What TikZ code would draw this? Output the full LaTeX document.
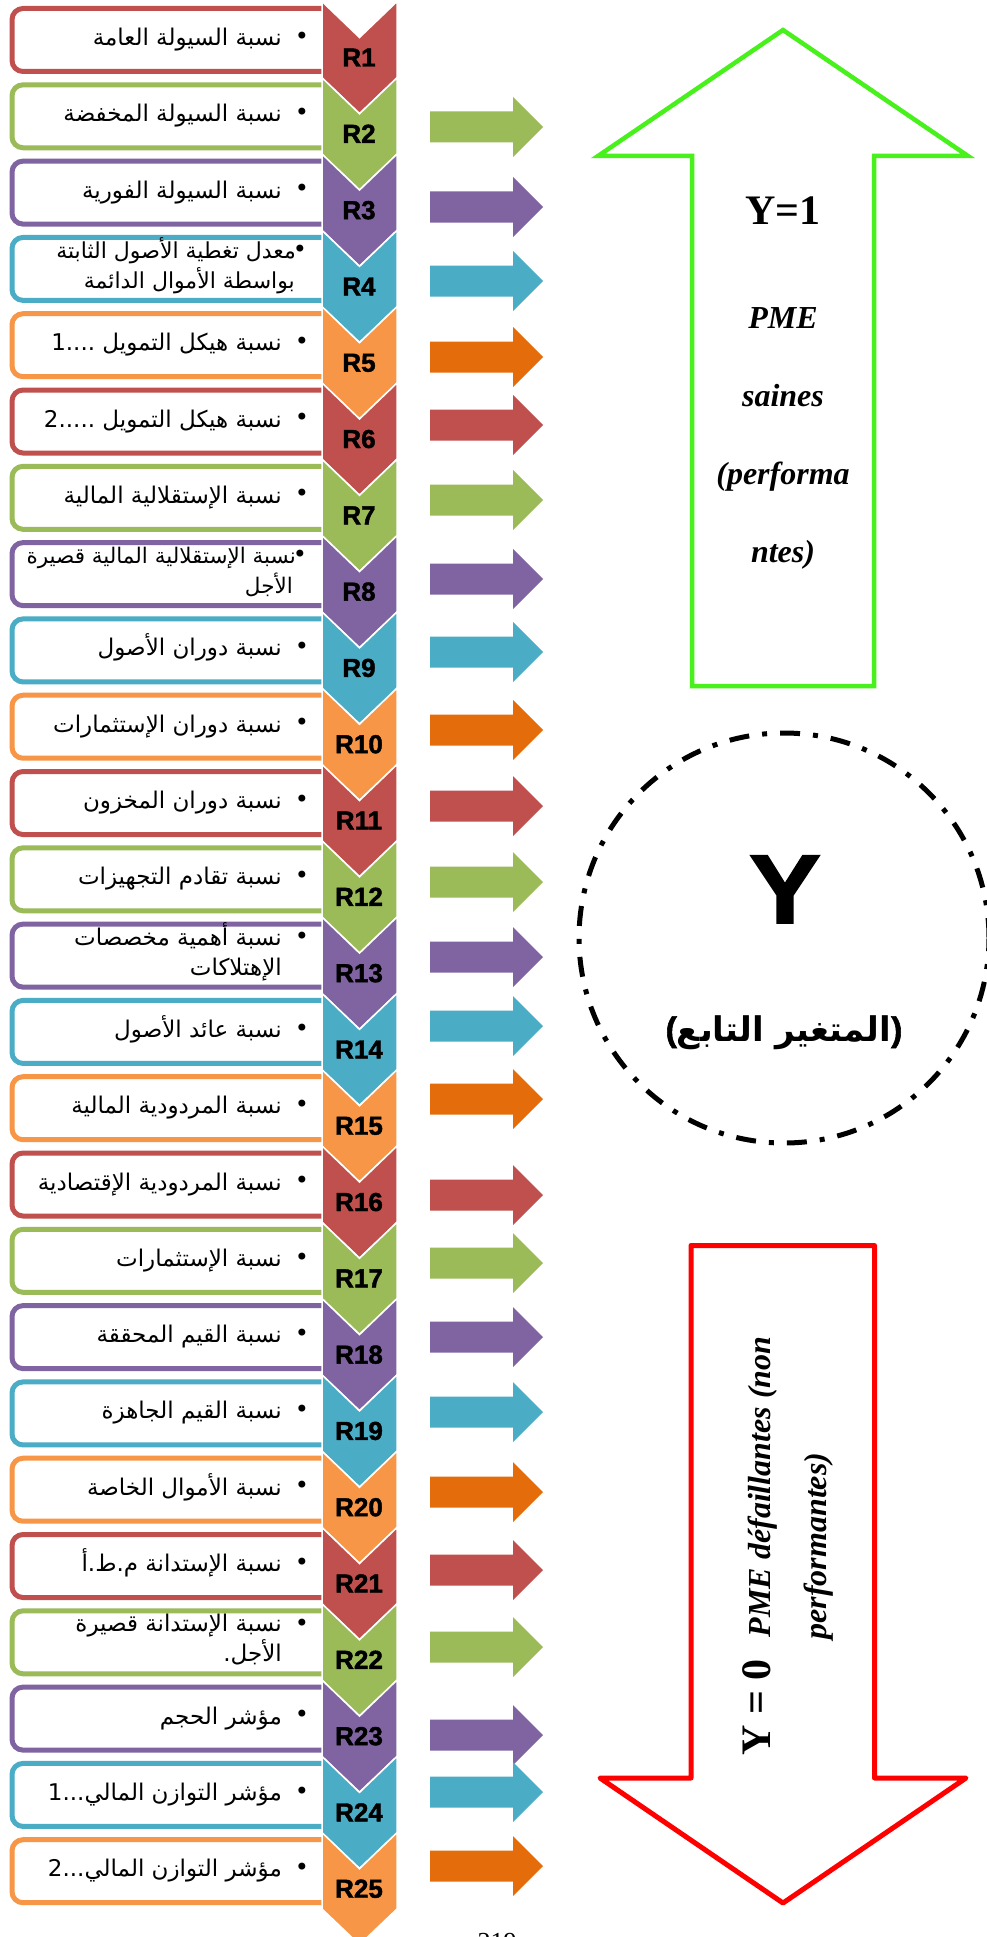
\documentclass[tikz,border=0pt]{standalone}
\usepackage{fontspec}
\setmainfont{Liberation Serif}
\newfontfamily\arabicfont[Script=Arabic]{DejaVu Sans}
\newfontfamily\labelfont{Liberation Sans}
\newfontfamily\heavyfont[BoldFeatures={FakeBold=1.6}]{Liberation Sans}
\TeXXeTstate=1

\definecolor{cRed}{HTML}{C0504D}
\definecolor{cGreen}{HTML}{9BBB59}
\definecolor{cPurple}{HTML}{8064A2}
\definecolor{cBlue}{HTML}{4BACC6}
\definecolor{cOrange}{HTML}{F79646}
\definecolor{cOrangeDark}{HTML}{E46C0A}
\definecolor{upGreen}{RGB}{72,240,28}
\definecolor{downRed}{RGB}{255,0,0}

% top edge of row #1
\newcommand\rowtop[1]{\pgfmathsetmacro\tp{1.5+76.3*(#1-1)}}

% rounded text frame of a row, open on the chevron side
\newcommand\ratioframe[2]{%
  \rowtop{#1}%
  \draw[frame,draw=#2] (326,\tp+7) -- (12,\tp+7) -- (12,\tp+70) -- (326,\tp+70);}

% chevron with its label
\newcommand\ratiochevron[2]{%
  \rowtop{#1}%
  \filldraw[chevshape,fill=#2] (322,\tp) -- (359.5,\tp+36) -- (397,\tp)
     -- (397,\tp+76.3) -- (359.5,\tp+112) -- (322,\tp+76.3) -- cycle;
  \node[rlabel] (lab#1) at (359,\tp+65) {R#1};}

% one-line ratio name
\newcommand\ratioone[2]{%
  \rowtop{#1}%
  \node[dot] (dot#1) at (302,\tp+36.5) {•};
  \node[artext] (txt#1) at (282,\tp+44) {#2};}

% two-line ratio name: index, line 1, line 2, right edge 1, right edge 2, bullet x, size
\newcommand\ratiotwo[7]{%
  \rowtop{#1}%
  \node[dot] (dot#1) at (#6,\tp+21) {•};
  \node[artext,font=\arabicfont\fontsize{#7}{#7}\selectfont] (txt#1a) at (#4,\tp+28) {#2};
  \node[artext,font=\arabicfont\fontsize{#7}{#7}\selectfont] (txt#1b) at (#5,\tp+58) {#3};}

% horizontal block arrow centred on height #2
\newcommand\sidearrow[2]{%
  \fill[#1] (430,#2-15.5) -- (513,#2-15.5) -- (513,#2-30) -- (543,#2)
     -- (513,#2+30) -- (513,#2+15.5) -- (430,#2+15.5) -- cycle;}

\begin{document}
\begin{tikzpicture}[x=1pt,y=-1pt,
  frame/.style={line width=5pt,rounded corners=11pt,fill=white},
  chevshape/.style={draw=white,line width=1.5pt},
  rlabel/.style={font=\heavyfont\bfseries\fontsize{26}{26}\selectfont,anchor=base,inner sep=0},
  artext/.style={font=\arabicfont\fontsize{23}{23}\selectfont,anchor=base east,inner sep=0},
  dot/.style={font=\arabicfont\fontsize{24}{24}\selectfont,inner sep=0},
  bigtext/.style={font=\bfseries\itshape\fontsize{32}{32}\selectfont,anchor=base,inner sep=0}]
\useasboundingbox (0,0) rectangle (986,1937);
\fill[white] (0,0) rectangle (986,1937);

% frames first, chevrons on top
\foreach \i/\c in {1/cRed,2/cGreen,3/cPurple,4/cBlue,5/cOrange,
                   6/cRed,7/cGreen,8/cPurple,9/cBlue,10/cOrange,
                   11/cRed,12/cGreen,13/cPurple,14/cBlue,15/cOrange,
                   16/cRed,17/cGreen,18/cPurple,19/cBlue,20/cOrange,
                   21/cRed,22/cGreen,23/cPurple,24/cBlue,25/cOrange}
  {\ratioframe{\i}{\c}}
\foreach \i/\c in {1/cRed,2/cGreen,3/cPurple,4/cBlue,5/cOrange,
                   6/cRed,7/cGreen,8/cPurple,9/cBlue,10/cOrange,
                   11/cRed,12/cGreen,13/cPurple,14/cBlue,15/cOrange,
                   16/cRed,17/cGreen,18/cPurple,19/cBlue,20/cOrange,
                   21/cRed,22/cGreen,23/cPurple,24/cBlue,25/cOrange}
  {\ratiochevron{\i}{\c}}

% ratio names
\ratioone{1}{\beginR نسبة السيولة العامة\endR}
\ratioone{2}{\beginR نسبة السيولة المخفضة\endR}
\ratioone{3}{\beginR نسبة السيولة الفورية\endR}
\ratiotwo{4}{\beginR معدل تغطية الأصول الثابتة\endR}{\beginR بواسطة الأموال الدائمة\endR}{296}{295}{300}{22}
\ratioone{5}{\beginR نسبة هيكل التمويل ....1\endR}
\ratioone{6}{\beginR نسبة هيكل التمويل .....2\endR}
\ratioone{7}{\beginR نسبة الإستقلالية المالية\endR}
\ratiotwo{8}{\beginR نسبة الإستقلالية المالية قصيرة\endR}{\beginR الأجل\endR}{296}{293}{300}{21.5}
\ratioone{9}{\beginR نسبة دوران الأصول\endR}
\ratioone{10}{\beginR نسبة دوران الإستثمارات\endR}
\ratioone{11}{\beginR نسبة دوران المخزون\endR}
\ratioone{12}{\beginR نسبة تقادم التجهيزات\endR}
\ratiotwo{13}{\beginR نسبة أهمية مخصصات\endR}{\beginR الإهتلاكات\endR}{282}{282}{302}{23}
\ratioone{14}{\beginR نسبة عائد الأصول\endR}
\ratioone{15}{\beginR نسبة المردودية المالية\endR}
\ratioone{16}{\beginR نسبة المردودية الإقتصادية\endR}
\ratioone{17}{\beginR نسبة الإستثمارات\endR}
\ratioone{18}{\beginR نسبة القيم المحققة\endR}
\ratioone{19}{\beginR نسبة القيم الجاهزة\endR}
\ratioone{20}{\beginR نسبة الأموال الخاصة\endR}
\ratioone{21}{\beginR نسبة الإستدانة م.ط.أ\endR}
\ratiotwo{22}{\beginR نسبة الإستدانة قصيرة\endR}{\beginR الأجل.\endR}{282}{282}{302}{23}
\ratioone{23}{\beginR مؤشر الحجم\endR}
\ratioone{24}{\beginR مؤشر التوازن المالي...1\endR}
\ratioone{25}{\beginR مؤشر التوازن المالي...2\endR}

% block arrows towards the dependent variable
\sidearrow{cGreen}{127}
\sidearrow{cPurple}{207}
\sidearrow{cBlue}{281}
\sidearrow{cOrangeDark}{357}
\sidearrow{cRed}{425}
\sidearrow{cGreen}{500}
\sidearrow{cPurple}{579}
\sidearrow{cBlue}{652}
\sidearrow{cOrangeDark}{730}
\sidearrow{cRed}{806}
\sidearrow{cGreen}{882}
\sidearrow{cPurple}{957}
\sidearrow{cBlue}{1026}
\sidearrow{cOrangeDark}{1099}
\sidearrow{cRed}{1195}
\sidearrow{cGreen}{1263}
\sidearrow{cPurple}{1337}
\sidearrow{cBlue}{1412}
\sidearrow{cOrangeDark}{1492}
\sidearrow{cRed}{1570}
\sidearrow{cGreen}{1647}
\sidearrow{cPurple}{1735}
\sidearrow{cBlue}{1792}
\sidearrow{cOrangeDark}{1866}

% healthy firms: upward arrow
\draw[upGreen,line width=4.5pt,fill=white] (783,30) -- (968,156) -- (874,156)
   -- (874,686) -- (692,686) -- (692,156) -- (598,156) -- cycle;
\node[font=\bfseries\fontsize{42}{42}\selectfont,anchor=base,inner sep=0] (yone) at (783,225) {Y=1};
\node[bigtext] (pmeA) at (783,328) {PME};
\node[bigtext] (pmeB) at (783,406) {saines};
\node[bigtext] (pmeC) at (783,484) {(performa};
\node[bigtext] (pmeD) at (783,562) {ntes)};

% dependent variable
\node[draw=black,line width=5pt,circle,minimum size=410pt,inner sep=0,
      dash pattern=on 20pt off 13pt on 5pt off 13pt] (ycircle) at (784,938) {};
\node[font=\heavyfont\bfseries\fontsize{98}{98}\selectfont,anchor=base,xscale=1.1,inner sep=0] (ybig) at (785,923) {Y};
\node[anchor=base,inner sep=0] (ylab) at (784,1041)
   {{\heavyfont\bfseries\fontsize{34}{34}\selectfont (}{\arabicfont\bfseries\fontsize{34}{34}\selectfont\beginR المتغير التابع\endR}{\heavyfont\bfseries\fontsize{34}{34}\selectfont )}};

% failing firms: downward arrow
\draw[downRed,line width=5pt,fill=white,line join=round] (691,1245.5) -- (874.5,1245.5)
   -- (874.5,1778) -- (966,1778) -- (783,1903) -- (600,1778) -- (691,1778) -- cycle;
\node[rotate=90,anchor=base,inner sep=0] (yzero) at (770,1546)
   {{\bfseries\fontsize{42}{42}\selectfont Y = 0}\hspace{22pt}{\bfseries\itshape\fontsize{32}{32}\selectfont PME défaillantes (non}};
\node[rotate=90,bigtext] (yzeroB) at (826,1546) {performantes)};

% page number at the lower edge
\node[font=\fontsize{26}{26}\selectfont,anchor=base,inner sep=0] (pagenum) at (497,1950) {219};
\end{tikzpicture}
\end{document}
